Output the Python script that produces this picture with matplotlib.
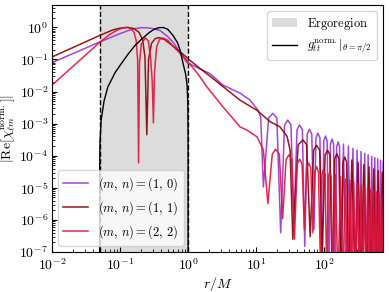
import matplotlib

matplotlib.use("Agg")
import matplotlib.pyplot as plt  # noqa: E402
from matplotlib.ticker import LogLocator, NullFormatter  # noqa: E402

plt.rcParams.update(
    {
        "font.family": "serif",
        "font.serif": ["cmr10", "DejaVu Serif"],
        "mathtext.fontset": "cm",
        "axes.formatter.use_mathtext": True,
        "font.size": 10,
        "xtick.direction": "in",
        "ytick.direction": "in",
    }
)

ERGO_INNER = 0.05
ERGO_OUTER = 1.0

# (m, n) = (1, 0)
r_10 = [0.01, 0.05, 0.1, 0.15, 0.2, 0.25, 0.3, 0.387, 0.5, 0.6, 0.8, 0.966, 1.3, 2.11, 3.27, 5.82, 8.17, 10.7, 11.7, 12.8,
        15.3, 17.6, 20.2, 23,
        26.2, 29.2, 32.6, 36,
        40, 43.6, 48, 52,
        56.5, 60.8, 66, 71,
        76, 81, 87, 93,
        99, 105, 111, 118,
        124, 131, 138, 145,
        153, 161, 169, 177,
        193, 210, 228, 246, 266, 286, 306, 328, 350, 372, 396, 420, 445, 473, 502, 527,
        557, 586, 615, 645, 676, 708, 740, 773]
y_10 = [0.08, 0.35, 0.64, 0.88, 0.98, 0.97, 0.92, 0.8, 0.52, 0.347, 0.145, 0.079, 0.059, 0.036, 0.0158, 0.0089, 0.0054, 0.0026, 0.0016, 1.07e-5,
        1.5e-3, 2.1e-3, 1.5e-3, 4e-7,
        9e-4, 1.3e-3, 9e-4, 8e-7,
        6.4e-4, 9.1e-4, 6.4e-4, 1.5e-7,
        4.7e-4, 6.7e-4, 4.7e-4, 5e-7,
        3.6e-4, 5.1e-4, 3.6e-4, 1e-8,
        2.9e-4, 4.1e-4, 2.9e-4, 1e-8,
        2.3e-4, 3.3e-4, 2.3e-4, 1e-8,
        1.9e-4, 2.7e-4, 1.9e-4, 1e-8,
        2.3e-4, 1e-8, 2.0e-4, 1e-8, 1.7e-4, 1e-8, 1.5e-4, 1e-8, 1.35e-4, 1e-8, 1.2e-4, 1e-8, 1.07e-4, 1e-8, 9.6e-5, 1e-8,
        8.7e-5, 1e-8, 8e-5, 1e-8, 7.3e-5, 1e-8, 6.7e-5, 1e-8]

# (m, n) = (1, 1)
r_11 = [0.01, 0.05, 0.08, 0.1, 0.13, 0.16, 0.19, 0.215, 0.232, 0.247, 0.262, 0.29, 0.33, 0.37, 0.45, 0.6, 0.8, 1.0,
        1.5, 2.11, 3.3, 5.8, 10.3, 16.1, 22.5, 28.6, 31.6, 34.7,
        41.6, 49, 55.5, 62.4,
        70.3, 77.4, 86.2, 94.1,
        103.6, 112.4, 122.4, 132.3,
        143.5, 153.8, 165.4, 176.9,
        189.7, 201.6, 214.8, 228,
        256, 285.6, 316.8, 349.7, 384, 420, 458, 497, 538, 581, 625, 671, 718, 767]
y_11 = [0.12, 0.56, 0.85, 0.95, 1.0, 0.92, 0.7, 0.4, 0.12, 4.5e-4, 0.1, 0.32, 0.45, 0.48, 0.42, 0.26, 0.16, 0.105,
        0.052, 0.030, 0.014, 5.4e-3, 2.6e-3, 1.15e-3, 7.9e-4, 4e-4, 1.5e-4, 2.5e-7,
        2.2e-4, 3.1e-4, 2.2e-4, 3e-7,
        1.5e-4, 2.1e-4, 1.5e-4, 1e-7,
        1.05e-4, 1.5e-4, 1.05e-4, 1e-8,
        8e-5, 1.15e-4, 8e-5, 1e-8,
        6.4e-5, 9.1e-5, 6.4e-5, 1e-8,
        7.4e-5, 1e-8, 6.2e-5, 1e-8, 5.2e-5, 1e-8, 4.5e-5, 1e-8, 3.9e-5, 1e-8, 3.4e-5, 1e-8, 3.1e-5, 1e-8]

# (m, n) = (2, 2)
r_22 = [0.01, 0.05, 0.07, 0.09, 0.11, 0.127, 0.145, 0.16, 0.172, 0.181,
        0.187, 0.193, 0.205, 0.235, 0.26, 0.28, 0.297, 0.309, 0.32, 0.345,
        0.38, 0.42, 0.5, 0.6, 0.8, 1.0, 1.4, 1.9, 3.27, 5.82,
        7.3, 10.3, 12.8, 14.9,
        17.3, 19.4, 22, 24.6,
        27.6, 30.4, 33.5, 36.7,
        40.2, 43.7, 47.5, 51.3,
        55.5, 59.4, 63.8, 68.2,
        73, 77.6, 82.5, 87.6,
        93, 98.2, 103.8, 109.4,
        115.4, 121.2, 127.4, 133.6,
        146.6, 160.3, 174.5, 189.3, 204.8, 220.8, 237.5, 254.7, 272.6, 291, 310.1, 329.8, 350, 371, 392.4,
        414.5, 437.2, 460.5, 484.4, 509, 534, 559.8, 586, 613, 640.6, 668.7, 697.5, 726.8, 756.8, 787]
y_22 = [0.016, 0.34, 0.6, 0.82, 0.96, 1.0, 0.92, 0.7, 0.4, 0.1,
        6e-5, 0.08, 0.3, 0.47, 0.38, 0.12, 0.02, 1.05e-3, 0.04, 0.25,
        0.42, 0.47, 0.4, 0.26, 0.14, 0.083, 0.035, 0.0138, 3.3e-3, 7.9e-4,
        6.3e-4, 3.9e-4, 1.5e-4, 3.2e-6,
        1.12e-4, 1.6e-4, 1.12e-4, 1.1e-6,
        7.5e-5, 1.07e-4, 7.5e-5, 2.5e-7,
        5.5e-5, 7.8e-5, 5.5e-5, 5e-7,
        4.1e-5, 5.9e-5, 4.1e-5, 4e-7,
        3.2e-5, 4.6e-5, 3.2e-5, 1e-7,
        2.6e-5, 3.7e-5, 2.6e-5, 1e-8,
        2.2e-5, 3.1e-5, 2.2e-5, 1e-8,
        2.6e-5, 1e-8, 2.2e-5, 1e-8, 1.9e-5, 1e-8, 1.7e-5, 1e-8, 1.5e-5, 1e-8, 1.32e-5, 1e-8, 1.2e-5, 1e-8, 1.07e-5,
        1e-8, 9.8e-6, 1e-8, 8.9e-6, 1e-8, 8.2e-6, 1e-8, 7.5e-6, 1e-8, 6.9e-6, 1e-8, 6.4e-6, 1e-8, 6.0e-6, 1e-8]

# normalised g_tt on the equator, negative outside the ergoregion
r_gtt = [0.05, 0.0500001, 0.05001, 0.0501, 0.0505, 0.0526, 0.058, 0.066, 0.085, 0.111, 0.132, 0.165, 0.2, 0.232,
         0.27, 0.32, 0.37, 0.43, 0.5, 0.6, 0.7, 0.76, 0.85, 0.92, 0.966, 0.99, 0.999, 0.9999, 0.999999, 0.9999999]
y_gtt = [1e-9, 5e-8, 5e-6, 5e-5, 2.5e-4, 1.3e-3, 5e-3, 0.014, 0.04, 0.09, 0.15, 0.27, 0.4, 0.53,
         0.7, 0.88, 0.98, 0.99, 0.88, 0.56, 0.33, 0.2, 0.07, 0.035, 0.016, 4.7e-3, 4.7e-4, 4.7e-5, 4.7e-7, 4.7e-8]

COLORS = {"10": "darkorchid", "11": "#8b0000", "22": "#dc143c"}
LW = 1.1

fig = plt.figure(figsize=(3.89, 2.92), dpi=100)
ax = fig.add_axes([0.134, 0.137, 0.851, 0.846])

ergo = ax.axvspan(ERGO_INNER, ERGO_OUTER, color="#dcdcdc", lw=0, label=r"$\mathrm{Ergoregion}$")
ax.axvline(ERGO_INNER, color="k", ls="--", lw=1.0)
ax.axvline(ERGO_OUTER, color="k", ls="--", lw=1.0)

l10, = ax.plot(r_10, y_10, color=COLORS["10"], lw=LW, alpha=0.9, label=r"$(m,\,n)=(1,\,0)$")
l11, = ax.plot(r_11, y_11, color=COLORS["11"], lw=LW, alpha=0.9, label=r"$(m,\,n)=(1,\,1)$")
l22, = ax.plot(r_22, y_22, color=COLORS["22"], lw=LW, alpha=0.9, label=r"$(m,\,n)=(2,\,2)$")
lg, = ax.plot(r_gtt, y_gtt, color="k", lw=1.0, label=r"$g_{tt}^{\mathrm{norm.}}|_{\theta=\pi/2}$")

ax.set_xscale("log")
ax.set_yscale("log")
ax.set_xlim(0.01, 740)
ax.set_ylim(1e-7, 5)
for axis in (ax.xaxis, ax.yaxis):
    axis.set_major_locator(LogLocator(base=10, numticks=20))
    axis.set_minor_locator(LogLocator(base=10, subs=range(2, 10), numticks=100))
    axis.set_minor_formatter(NullFormatter())
ax.tick_params(which="major", length=3.5, pad=3)
ax.tick_params(which="minor", length=2)
ax.tick_params(axis="x", pad=4)
ax.set_xlabel(r"$r/M$", labelpad=1)
ax.set_ylabel(r"$|\mathrm{Re}[\chi_{\ell m}^{\mathrm{norm.}}]|$", labelpad=1)

leg1 = ax.legend(handles=[ergo, lg], loc="upper right", fontsize=9)
ax.add_artist(leg1)
ax.legend(handles=[l10, l11, l22], loc="lower left", fontsize=9)

fig.savefig("out.png", dpi=100)
